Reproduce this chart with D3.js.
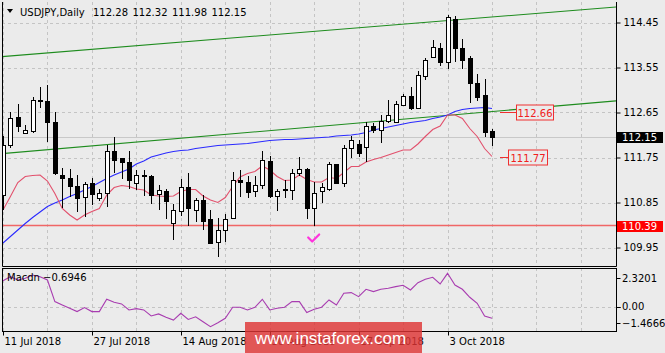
<!DOCTYPE html>
<html><head><meta charset="utf-8">
<script src="https://cdn.jsdelivr.net/npm/d3@7"></script>
<style>
body{margin:0;background:#ebebeb;overflow:hidden}
text{font-family:"DejaVu Sans",sans-serif;font-size:10px}
</style>
</head><body><svg id="c" width="665" height="353"></svg>
<script>
// ---------- data ----------
const symbolLabel = "USDJPY,Daily";
const headerOHLC = ["112.28", "112.32", "111.98", "112.15"];
const firstDate = "2018-07-11";
const open  = [111.00,112.00,112.57,112.23,112.28,112.90,112.89,112.47,111.40,111.35,111.18,110.97,111.25,110.93,111.05,111.87,111.75,111.65,111.23,111.40,111.37,111.02,111.08,110.45,110.68,111.17,110.71,110.91,110.51,110.07,110.30,110.55,111.31,111.27,111.08,111.20,111.69,110.98,111.12,111.10,111.43,111.53,110.73,111.08,111.12,111.62,111.25,111.93,112.03,111.97,112.37,112.31,112.49,112.47,112.80,112.98,112.73,113.38,113.77,113.95,113.67,114.53,113.93,113.75,113.25,113.00,112.28];
const high  = [112.18,112.67,112.83,112.40,112.97,113.15,113.20,112.65,111.55,111.53,111.40,111.27,111.35,111.13,112.00,112.17,111.75,111.89,111.50,111.50,111.40,111.20,111.13,110.83,111.33,111.45,110.93,111.00,110.70,110.55,110.63,111.47,111.50,111.37,111.37,111.87,111.78,111.13,111.31,111.53,111.77,111.55,111.27,111.25,111.65,111.63,112.00,112.18,112.10,112.47,112.45,112.60,112.90,112.87,113.01,113.15,113.49,113.75,114.11,114.05,114.60,114.58,114.13,113.78,113.42,113.33,112.32];
const low   = [110.70,111.93,112.27,112.22,112.25,112.73,112.07,111.40,110.73,110.97,110.67,110.57,110.80,110.87,110.77,111.43,111.33,111.13,111.10,110.98,110.83,110.71,110.51,110.10,110.58,110.38,110.47,110.31,110.02,109.77,110.07,110.51,110.97,110.93,110.97,111.13,110.95,110.69,110.95,110.90,111.38,110.51,110.39,110.85,111.08,111.23,111.17,111.75,111.77,111.67,112.25,112.05,112.45,112.45,112.78,112.70,112.73,113.31,113.73,113.58,113.53,113.67,113.53,112.85,112.89,112.17,111.98];
const close = [112.00,112.55,112.37,112.30,112.90,112.87,112.47,111.43,111.34,111.19,110.95,111.22,111.03,111.05,111.87,111.71,111.67,111.29,111.40,111.38,111.00,111.10,110.87,110.70,111.15,110.73,110.90,110.49,110.05,110.29,110.53,111.30,111.27,111.07,111.20,111.70,110.98,111.09,111.10,111.45,111.53,110.75,111.05,111.15,111.62,111.25,111.93,112.09,111.85,112.37,112.29,112.49,112.60,112.82,112.98,112.73,113.40,113.71,113.97,113.67,114.57,113.93,113.71,113.25,112.97,112.27,112.15];
const maFast = [110.70,110.97,111.25,111.37,111.39,111.40,111.28,111.03,110.73,110.60,110.50,110.60,110.67,110.73,111.00,111.15,111.19,111.17,111.12,111.10,111.00,110.98,110.97,110.98,111.07,111.11,111.11,110.98,110.90,110.85,110.95,111.17,111.36,111.43,111.47,111.58,111.50,111.37,111.29,111.30,111.40,111.31,111.26,111.26,111.35,111.33,111.45,111.57,111.57,111.66,111.71,111.75,111.80,111.85,111.90,111.90,112.02,112.17,112.31,112.38,112.60,112.60,112.53,112.33,112.17,111.93,111.77];
const maSlow = [110.04,110.17,110.30,110.43,110.55,110.66,110.77,110.84,110.90,110.97,111.03,111.10,111.17,111.25,111.33,111.40,111.46,111.52,111.62,111.68,111.76,111.80,111.84,111.87,111.89,111.90,111.93,111.95,111.97,111.99,112.00,112.01,112.02,112.03,112.05,112.07,112.09,112.10,112.11,112.11,112.12,112.13,112.14,112.15,112.16,112.18,112.19,112.20,112.22,112.25,112.30,112.33,112.36,112.39,112.42,112.45,112.47,112.49,112.53,112.56,112.60,112.67,112.71,112.73,112.74,112.75,112.73];
const macd = [1.56,1.80,1.60,1.70,1.90,1.80,1.60,0.30,0.10,-0.10,-0.30,-0.06,-0.30,-0.30,0.44,0.26,0.16,-0.20,-0.12,-0.20,-0.56,-0.44,-0.64,-0.81,-0.40,-0.77,-0.61,-0.91,-1.21,-0.97,-0.70,-0.04,-0.04,-0.20,-0.04,0.44,-0.20,-0.10,-0.04,0.30,0.30,-0.36,-0.16,-0.04,0.40,0.10,0.80,0.84,0.60,1.04,0.90,1.04,1.10,1.20,1.28,1.00,1.44,1.64,1.76,1.36,2.00,1.30,1.04,0.56,0.20,-0.56,-0.6946];
const macdName = "Macdn";
const priceTicks = [109.95, 110.85, 111.75, 112.65, 113.55, 114.45];
const macdMax = 2.3201, macdMin = -1.4666;
const dateTickStep = 12;
const gridStep = 6;
const channelUpper = [[0, 113.77], [66, 114.56]];
const channelLower = [[0, 111.83], [66, 112.67]];
const supportLevel = 110.39;
const lastPrice = 112.15;
const fastLabel = "111.77";
const channelLabel = "112.66";
const markBar = 42;
const watermark = "www.instaforex.com";

// ---------- layout ----------
const svg = d3.select("#c");
const L = 2, R = 616, mTop = 2, mBot = 266, sTop = 268, sBot = 331;
const N = close.length;
const x = d3.scaleLinear().domain([0, N - 1]).range([3, 492]);
const y = d3.scaleLinear().domain([109.95, 114.45]).range([247.5, 22.5]);
const ym = d3.scaleLinear().domain([macdMin, macdMax]).range([sBot, sTop]);
const dates = [];
{ let d = new Date(firstDate + "T00:00:00Z");
  while (dates.length < N) { const w = d.getUTCDay(); if (w !== 0 && w !== 6) dates.push(new Date(d)); d.setUTCDate(d.getUTCDate() + 1); } }
const fmtDate = d3.utcFormat("%-d %b %Y");
const px = i => Math.round(x(i));

svg.append("rect").attr("width", 665).attr("height", 353).attr("fill", "#ebebeb");
const defs = svg.append("defs");
defs.append("clipPath").attr("id", "cm").append("rect").attr("x", L).attr("y", mTop).attr("width", R - L).attr("height", mBot - mTop);
defs.append("clipPath").attr("id", "cs").append("rect").attr("x", L).attr("y", sTop).attr("width", R - L).attr("height", sBot - sTop);

const gm = svg.append("g").attr("clip-path", "url(#cm)");
const gs = svg.append("g").attr("clip-path", "url(#cs)");

// grid
const iMax = x.invert(R);
const gridIdx = d3.range(0, iMax, gridStep);
[gm, gs].forEach((g, k) => {
  g.selectAll(".vg").data(gridIdx).join("line")
    .attr("x1", d => px(d) + 0.5).attr("x2", d => px(d) + 0.5)
    .attr("y1", k ? sTop : mTop).attr("y2", k ? sBot : mBot)
    .attr("stroke", "#c4c4c4").attr("stroke-dasharray", "3,3");
});
gm.selectAll(".hg").data(priceTicks).join("line")
  .attr("x1", L).attr("x2", R).attr("y1", d => Math.round(y(d)) + 0.5).attr("y2", d => Math.round(y(d)) + 0.5)
  .attr("stroke", "#c4c4c4").attr("stroke-dasharray", "3,3");
gs.append("line").attr("x1", L).attr("x2", R).attr("y1", Math.round(ym(0)) + 0.5).attr("y2", Math.round(ym(0)) + 0.5)
  .attr("stroke", "#c4c4c4").attr("stroke-dasharray", "3,3");

// bid line
gm.append("line").attr("x1", L).attr("x2", R).attr("y1", Math.round(y(lastPrice)) + 0.5).attr("y2", Math.round(y(lastPrice)) + 0.5)
  .attr("stroke", "#c8c8c8");

// channel lines
const extend = seg => {
  const s = d3.scaleLinear().domain([seg[0][0], seg[1][0]]).range([seg[0][1], seg[1][1]]);
  const a = x.invert(L), b = x.invert(R);
  return [[a, s(a)], [b, s(b)]];
};
[channelUpper, channelLower].forEach(seg => {
  const e = extend(seg);
  gm.append("line").attr("x1", x(e[0][0])).attr("y1", y(e[0][1])).attr("x2", x(e[1][0])).attr("y2", y(e[1][1]))
    .attr("stroke", "#1e8c1e").attr("stroke-width", 1.1);
});

// support line
gm.append("line").attr("x1", L).attr("x2", R).attr("y1", y(supportLevel)).attr("y2", y(supportLevel))
  .attr("stroke", "#f06666").attr("stroke-width", 1.6);

// moving averages
const line = arr => d3.line().x((d, i) => x(i)).y(d => y(d))(arr);
gm.append("path").attr("d", line(maSlow)).attr("fill", "none").attr("stroke", "#2a2aff").attr("stroke-width", 1.1);
gm.append("path").attr("d", line(maFast)).attr("fill", "none").attr("stroke", "#e2506c").attr("stroke-width", 1.1);

// candles
const idx = d3.range(N);
const cg = gm.append("g");
cg.selectAll(".w").data(idx).join("line")
  .attr("x1", i => px(i) + 0.5).attr("x2", i => px(i) + 0.5)
  .attr("y1", i => Math.round(y(high[i]))).attr("y2", i => Math.round(y(low[i])))
  .attr("stroke", "#000");
cg.selectAll(".b").data(idx).join("rect")
  .attr("x", i => px(i) - 1.5).attr("width", 4)
  .attr("y", i => Math.round(y(Math.max(open[i], close[i]))) + 0.5)
  .attr("height", i => Math.max(0.01, Math.round(y(Math.min(open[i], close[i]))) - Math.round(y(Math.max(open[i], close[i])))))
  .attr("fill", i => close[i] >= open[i] ? "#fff" : "#000").attr("stroke", "#000");

// check mark under the low
{
  const cx = x(markBar), cy = y(low[markBar]) + 9;
  gm.append("path").attr("d", `M${cx - 6},${cy + 3} L${cx - 2},${cy + 7} L${cx + 5},${cy}`)
    .attr("fill", "none").attr("stroke", "#ff33dd").attr("stroke-width", 2.2).attr("stroke-linejoin", "round").attr("stroke-linecap", "round");
}

// MACD
gs.append("path").attr("d", d3.line().x((d, i) => x(i)).y(d => ym(d))(macd))
  .attr("fill", "none").attr("stroke", "#a83cb0").attr("stroke-width", 1.1);

// frames
svg.append("path").attr("d", `M${L + 0.5},${mTop} V${mBot + 0.5} H${R + 0.5} V${mTop}`).attr("fill", "none").attr("stroke", "#000");
svg.append("rect").attr("x", L + 0.5).attr("y", sTop + 0.5).attr("width", R - L).attr("height", sBot - sTop).attr("fill", "none").attr("stroke", "#000");

// price axis
const ax = svg.append("g").attr("transform", `translate(${R + 0.5},0)`)
  .call(d3.axisRight(y).tickValues(priceTicks).tickFormat(d3.format(".2f")).tickSize(4).tickPadding(3));
ax.select(".domain").remove();
ax.selectAll("text").attr("font-family", "DejaVu Sans").attr("font-size", 10).attr("fill", "#000");
ax.selectAll("line").attr("stroke", "#000");

// price tags
function tag(v, bg, fg) {
  const yy = Math.round(y(v));
  svg.append("rect").attr("x", R + 1).attr("y", yy - 5).attr("width", 46).attr("height", 11).attr("fill", bg);
  svg.append("text").attr("x", R + 6).attr("y", yy + 4).attr("fill", fg).text(d3.format(".2f")(v));
}
tag(lastPrice, "#000", "#fff");
tag(supportLevel, "#ff0000", "#fff");

// value boxes on chart
function box(v, label, x0, x1) {
  const yy = Math.round(y(v)) + 0.5;
  gm.append("line").attr("x1", x(N - 1) + 8).attr("x2", x0).attr("y1", yy).attr("y2", yy).attr("stroke", "#f03030");
  svg.append("rect").attr("x", x0 + 0.5).attr("y", yy - 7.5).attr("width", x1 - x0).attr("height", 15)
    .attr("fill", "#ebebeb").attr("stroke", "#f03030");
  svg.append("text").attr("x", (x0 + x1) / 2 + 0.5).attr("y", yy + 4).attr("text-anchor", "middle")
    .attr("fill", "#f02020").attr("font-size", 10.5).text(label);
}
box(maFast[N - 1], fastLabel, 508, 547);
box(+channelLabel, channelLabel, 516, 553);

// macd axis
svg.append("line").attr("x1", R + 0.5).attr("x2", R + 4.5).attr("y1", Math.round(ym(0)) + 0.5).attr("y2", Math.round(ym(0)) + 0.5).attr("stroke", "#000");
[[macdMax, ym(macdMax) + 10, d3.format(".4f")], [0, ym(0), d3.format(".2f")], [macdMin, ym(macdMin) - 8, d3.format(".4f")]].forEach(([v, yy, f]) => {
  svg.append("line").attr("x1", R + 0.5).attr("x2", R + 4.5).attr("y1", Math.round(yy) + 0.5).attr("y2", Math.round(yy) + 0.5).attr("stroke", "#000");
  svg.append("text").attr("x", R + 6).attr("y", yy + 3.5).text(f(v));
});
svg.append("text").attr("x", 7).attr("y", 281).text(`${macdName} ${d3.format(".4f")(macd[N - 1])}`);

// date axis
const dAx = svg.append("g").attr("transform", `translate(0,${sBot + 0.5})`)
  .call(d3.axisBottom(x).tickValues(d3.range(0, N, dateTickStep)).tickFormat(i => fmtDate(dates[i])).tickSize(4).tickPadding(2));
dAx.select(".domain").remove();
dAx.selectAll(".tick").attr("transform", d => `translate(${px(d) + 0.5},0)`);
dAx.selectAll("text").attr("text-anchor", "start").attr("x", 1).attr("font-family", "DejaVu Sans").attr("font-size", 10).attr("fill", "#000");
dAx.selectAll("line").attr("stroke", "#000");

// header
svg.append("path").attr("d", "M7,9 L13,9 L10,13 Z").attr("fill", "#000");
svg.append("text").attr("x", 20).attr("y", 15.5).text(symbolLabel);
const hx = [93, 132.5, 172, 211.5];
headerOHLC.forEach((t, k) => svg.append("text").attr("x", hx[k]).attr("y", 15.5).text(t));

// watermark
svg.append("rect").attr("x", 245).attr("y", 322).attr("width", 177).attr("height", 31).attr("fill", "rgba(222,52,52,0.82)");
svg.append("text").attr("x", 255).attr("y", 344).attr("fill", "#fff")
  .style("font-family", "'Liberation Sans',Arial,sans-serif").style("font-size", "17px").text(watermark);
</script>
</body></html>
